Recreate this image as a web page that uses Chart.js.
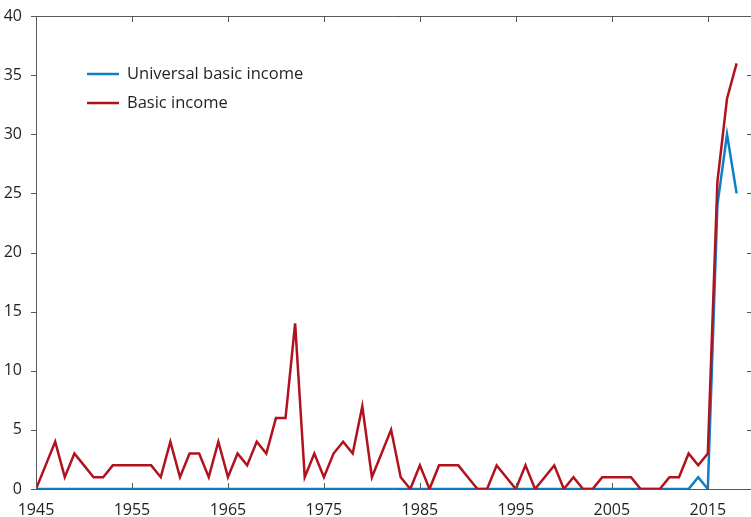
<!DOCTYPE html>
<html lang="en">
<head>
    <meta charset="UTF-8">
    <title>Basic income mentions</title>
    <script src="https://cdn.jsdelivr.net/npm/chart.js@4.4.2/dist/chart.umd.min.js"></script>
    <style>
        body { margin: 0; background: #fff; }
        #wrap { width: 751px; height: 517px; }
    </style>
</head>
<body>
    <div id="wrap"><canvas id="chart" width="751" height="517"></canvas></div>

    <script>
        // --- data ---
        const years = [];
        for (let y = 1945; y <= 2018; y++) years.push(y);

        const basicIncome = [
            0, 2, 4, 1, 3, 2, 1, 1, 2, 2,   // 1945-1954
            2, 2, 2, 1, 4, 1, 3, 3, 1, 4,   // 1955-1964
            1, 3, 2, 4, 3, 6, 6, 14, 1, 3,  // 1965-1974
            1, 3, 4, 3, 7, 1, 3, 5, 1, 0,   // 1975-1984
            2, 0, 2, 2, 2, 1, 0, 0, 2, 1,   // 1985-1994
            0, 2, 0, 1, 2, 0, 1, 0, 0, 1,   // 1995-2004
            1, 1, 1, 0, 0, 0, 1, 1, 3, 2,   // 2005-2014
            3, 26, 33, 36                   // 2015-2018
        ];
        const universalBasicIncome = [
            0, 0, 0, 0, 0, 0, 0, 0, 0, 0,
            0, 0, 0, 0, 0, 0, 0, 0, 0, 0,
            0, 0, 0, 0, 0, 0, 0, 0, 0, 0,
            0, 0, 0, 0, 0, 0, 0, 0, 0, 0,
            0, 0, 0, 0, 0, 0, 0, 0, 0, 0,
            0, 0, 0, 0, 0, 0, 0, 0, 0, 0,
            0, 0, 0, 0, 0, 0, 0, 0, 0, 1,
            0, 24, 30, 25
        ];
        const xTicks = [1945, 1955, 1965, 1975, 1985, 1995, 2005, 2015];
        const yTicks = [0, 5, 10, 15, 20, 25, 30, 35, 40];

        const BLUE = '#0a80c8';
        const RED = '#b0121e';
        const AXIS = '#58595b';
        const TEXT = '#231f20';
        const FONT = "'Open Sans', sans-serif";

        // frame: left + top + bottom lines, inward ticks top/bottom/right, outward on the left
        const framePlugin = {
            id: 'framePlugin',
            afterDraw: chart => {
                const ctx = chart.ctx;
                const a = chart.chartArea;
                const xs = chart.scales.x, ys = chart.scales.y;
                ctx.save();
                ctx.strokeStyle = AXIS;
                ctx.lineWidth = 1;
                ctx.beginPath();
                ctx.moveTo(a.left + 0.5, a.bottom);
                ctx.lineTo(a.left + 0.5, a.top + 0.5);
                ctx.lineTo(a.right, a.top + 0.5);
                ctx.moveTo(a.left, a.bottom + 0.5);
                ctx.lineTo(a.right, a.bottom + 0.5);
                xTicks.forEach(v => {
                    const px = Math.round(xs.getPixelForValue(v)) + 0.5;
                    ctx.moveTo(px, a.bottom);
                    ctx.lineTo(px, a.bottom - 6);
                    ctx.moveTo(px, a.top);
                    ctx.lineTo(px, a.top + 6);
                });
                yTicks.forEach(v => {
                    const py = Math.round(ys.getPixelForValue(v)) + 0.5;
                    ctx.moveTo(a.left, py);
                    ctx.lineTo(a.left - 5, py);
                    ctx.moveTo(a.right, py);
                    ctx.lineTo(a.right - 4, py);
                });
                ctx.stroke();
                ctx.restore();
            }
        };

        // legend drawn inside the plot area
        const legendPlugin = {
            id: 'legendPlugin',
            afterDatasetsDraw: chart => {
                const ctx = chart.ctx;
                const items = [
                    { label: 'Universal basic income', color: BLUE, y: 74 },
                    { label: 'Basic income', color: RED, y: 103 }
                ];
                ctx.save();
                ctx.font = '16.5px ' + FONT;
                ctx.textBaseline = 'middle';
                ctx.fillStyle = TEXT;
                items.forEach(it => {
                    ctx.strokeStyle = it.color;
                    ctx.lineWidth = 2.5;
                    ctx.beginPath();
                    ctx.moveTo(87, it.y);
                    ctx.lineTo(119, it.y);
                    ctx.stroke();
                    ctx.fillText(it.label, 127, it.y);
                });
                ctx.restore();
            }
        };

        new Chart(document.getElementById('chart'), {
            type: 'line',
            data: {
                datasets: [
                    {
                        label: 'Universal basic income',
                        data: years.map((y, i) => ({ x: y, y: universalBasicIncome[i] })),
                        borderColor: BLUE,
                        borderWidth: 2.5,
                        pointRadius: 0,
                        tension: 0,
                        order: 1
                    },
                    {
                        label: 'Basic income',
                        data: years.map((y, i) => ({ x: y, y: basicIncome[i] })),
                        borderColor: RED,
                        borderWidth: 2.5,
                        pointRadius: 0,
                        tension: 0,
                        order: 0
                    }
                ]
            },
            options: {
                responsive: false,
                animation: false,
                layout: { padding: { top: 16, right: 0, left: 0, bottom: 0 } },
                plugins: { legend: { display: false }, tooltip: { enabled: false } },
                scales: {
                    x: {
                        type: 'linear',
                        min: 1945,
                        max: 2019.5,
                        afterBuildTicks: s => { s.ticks = xTicks.map(v => ({ value: v })); },
                        afterFit: s => { s.height = 28; },
                        grid: { display: false },
                        border: { display: false },
                        ticks: {
                            color: TEXT,
                            font: { family: FONT, size: 16 },
                            padding: 4,
                            maxRotation: 0,
                            callback: v => String(v)
                        }
                    },
                    y: {
                        min: 0,
                        max: 40,
                        afterBuildTicks: s => { s.ticks = yTicks.map(v => ({ value: v })); },
                        afterFit: s => { s.width = 36; },
                        grid: { display: false },
                        border: { display: false },
                        ticks: {
                            color: TEXT,
                            font: { family: FONT, size: 16 },
                            padding: 6
                        }
                    }
                }
            },
            plugins: [framePlugin, legendPlugin]
        });
    </script>
</body>
</html>
